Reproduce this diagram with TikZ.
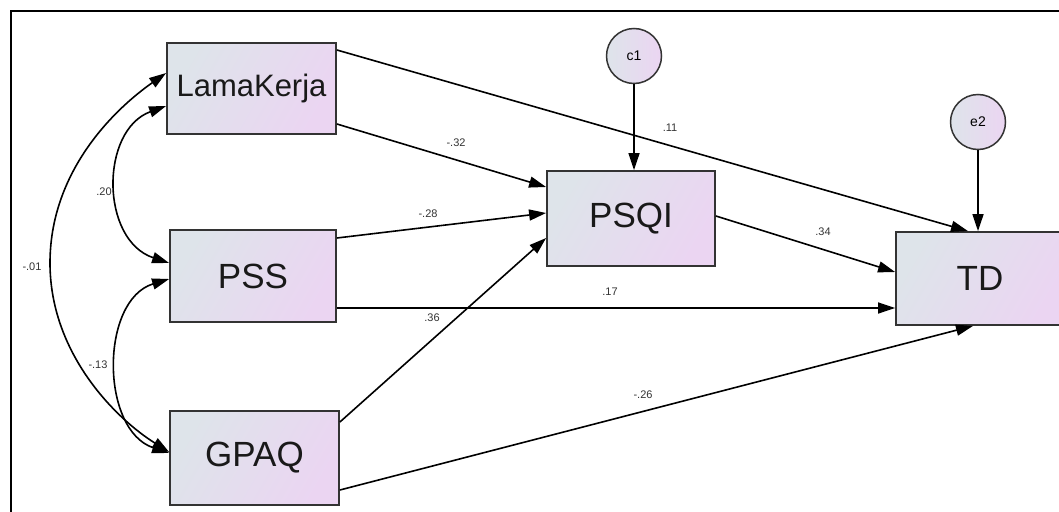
\documentclass[tikz,border=0pt]{standalone}
\usepackage{fontspec}
\setmainfont{Liberation Sans}
\usetikzlibrary{arrows.meta,calc}
\definecolor{boxleft}{HTML}{DEE4EA}
\definecolor{boxright}{HTML}{EBD5F2}
\definecolor{edge}{HTML}{333333}
\tikzset{
  var/.style={draw=edge, line width=1.8pt, left color=boxleft, right color=boxright,
    shading angle=60, inner sep=0pt, text=black!90,
    font=\fontsize{35}{40}\selectfont},
  err/.style={circle, draw=edge, line width=1.5pt, left color=boxleft, right color=boxright,
    minimum size=55pt, inner sep=0pt, font=\fontsize{14}{16}\selectfont},
  path/.style={line width=1.6pt, -{Triangle[length=17pt,width=11pt]}},
  cov/.style={line width=1.6pt, {Triangle[length=17pt,width=11pt]}-{Triangle[length=17pt,width=11pt]}},
  coef/.style={font=\fontsize{11}{13}\selectfont, text=black!80, inner sep=1pt}
}
\begin{document}
\begin{tikzpicture}[x=1pt,y=-1pt]
\useasboundingbox (0,0) rectangle (1059,511);
\clip (0,0) rectangle (1059,511);

% outer frame
\draw[line width=2pt] (11,515) -- (11,11) -- (1065,11);

% observed variables
\node[var, minimum width=169pt, minimum height=91pt, font=\fontsize{31}{36}\selectfont] (lk) at (251.5,88.5) {LamaKerja};
\node[var, minimum width=166pt, minimum height=92pt] (pss) at (253,276) {PSS};
\node[var, minimum width=169pt, minimum height=94pt] (gpaq) at (254.5,458) {GPAQ};
\node[var, minimum width=168pt, minimum height=95pt] (psqi) at (631,218.5) {PSQI};
\node[var, minimum width=168pt, minimum height=93pt] (td) at (980,278.5) {TD};

% error terms
\node[err] (c1) at (634,56) {c1};
\node[err] (e2) at (978,122) {e2};

% error paths
\draw[path] (c1.south) -- (c1.south |- psqi.north);
\draw[path] (e2.south) -- (e2.south |- td.north);

% regression paths
\draw[path] (lk.east |- 0,50) -- (968,0 |- td.north);
\draw[path] (lk.east |- 0,124) -- (psqi.west |- 0,187);
\draw[path] (pss.east |- 0,238) -- (psqi.west |- 0,213);
\draw[path] (pss.east |- 0,308) -- (td.west |- 0,308);
\draw[path] (gpaq.east |- 0,422) -- (psqi.west |- 0,238);
\draw[path] (gpaq.east |- 0,490) -- (973,0 |- td.south);
\draw[path] (psqi.east |- 0,216) -- (td.west |- 0,272);

% covariances
\draw[cov] (lk.west |- 0,73) .. controls (112,111) and (50,173) .. (50,263)
  .. controls (50,353) and (115,418) .. (gpaq.west |- 0,452);
\draw[cov] (lk.west |- 0,106) .. controls (100,130) and (100,240) .. (pss.west |- 0,263);
\draw[cov] (pss.west |- 0,279) .. controls (100,300) and (100,430) .. (gpaq.west |- 0,453);

% coefficients
\node[coef] (k1) at (32,267) {-.01};
\node[coef] (k2) at (104,192) {.20};
\node[coef] (k3) at (98,365) {-.13};
\node[coef] (k4) at (456,143) {-.32};
\node[coef] (k5) at (428,214) {-.28};
\node[coef] (k6) at (432,318) {.36};
\node[coef] (k7) at (610,292) {.17};
\node[coef] (k8) at (670,128) {.11};
\node[coef] (k9) at (823,232) {.34};
\node[coef] (k10) at (643,395) {-.26};
\end{tikzpicture}
\end{document}
